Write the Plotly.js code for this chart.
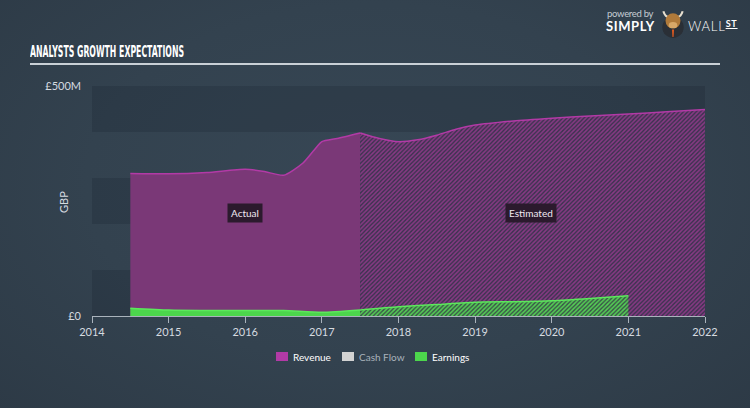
<!DOCTYPE html>
<html>
<head>
<meta charset="utf-8">
<script src="https://cdn.plot.ly/plotly-3.0.1.min.js"></script>
<style>
html,body{margin:0;padding:0;width:750px;height:408px;overflow:hidden;}
body{background:radial-gradient(ellipse 70% 80% at 50% 45%, #374755 0%, #33424f 55%, #2d3a46 100%);position:relative;font-family:Lato,'Open Sans',sans-serif;}
#chart{position:absolute;left:0;top:0;width:750px;height:408px;}
#title{position:absolute;left:30px;top:43px;color:#ffffff;font-family:'Liberation Sans Narrow','DejaVu Sans Condensed',sans-serif;font-weight:bold;font-size:15.5px;white-space:nowrap;transform-origin:0 0;}
#rule{position:absolute;left:30px;top:63px;width:690px;height:2px;background:#c9d0d6;}
#logo{position:absolute;left:606px;top:7px;color:#fff;}
#pb{position:absolute;left:1px;top:1px;font-size:9.5px;color:#c5ccd3;white-space:nowrap;letter-spacing:-0.3px;}
#simply{position:absolute;left:0;top:11px;font-size:13px;font-weight:bold;white-space:nowrap;letter-spacing:0.6px;}
#wall{position:absolute;left:82px;top:11px;font-size:13px;white-space:nowrap;letter-spacing:0.8px;font-weight:300;}
#wall span{font-size:9px;text-decoration:underline;font-weight:bold;vertical-align:top;}
#bull{position:absolute;left:53px;top:1px;width:28px;height:30px;}
</style>
</head>
<body>
<div id="chart"></div>
<div id="title">ANALYSTS GROWTH EXPECTATIONS</div>
<div id="rule"></div>
<div id="logo">
  <div id="pb">powered by</div>
  <div id="simply">SIMPLY</div>
  <svg id="bull" viewBox="0 0 26 28">
    <circle cx="13" cy="18" r="10" fill="#2a2f36"/>
    <path d="M4,3 Q6,9 9,8 M22,3 Q20,9 17,8" stroke="#e8e0d0" stroke-width="2" fill="none"/>
    <ellipse cx="13" cy="12" rx="7" ry="7" fill="#b07a3a"/>
    <ellipse cx="13" cy="16" rx="4" ry="3" fill="#d8a868"/>
    <path d="M12,20 L14,20 L13.5,27 L12.5,27 Z" fill="#e05a20"/>
  </svg>
  <div id="wall">WALL<span>ST</span></div>
</div>
<script>
// ---- data ----
var revenueActualX = [2014.5, 2015, 2015.5, 2016, 2016.25, 2016.5, 2016.75, 2016.9, 2017, 2017.2, 2017.5];
var revenueActualY = [310, 309, 312, 319, 314, 306, 332, 361, 379, 386, 398];
var revenueEstX = [2017.5, 2017.75, 2018, 2018.25, 2018.5, 2018.75, 2019, 2019.5, 2020, 2020.5, 2021, 2021.5, 2022];
var revenueEstY = [398, 386, 379, 383, 393, 406, 415, 424, 430, 435, 439, 444, 449];
var earningsActualX = [2014.5, 2015, 2015.5, 2016, 2016.5, 2017, 2017.5];
var earningsActualY = [17, 13, 12, 12, 12, 8, 13];
var earningsEstX = [2017.5, 2018, 2018.5, 2019, 2019.5, 2020, 2020.5, 2021];
var earningsEstY = [13, 20, 25, 30, 31, 33, 38, 44];
var yTickVals = [0, 500];
var yTickText = ['£0', '£500M'];
var bandStarts = [0, 200, 400];
var legendNames = ['Revenue', 'Cash Flow', 'Earnings'];
var legendColors = ['#b23aa6', '#d2d2d2', '#4cd64c'];
var legendTextColors = ['#ffffff', '#a9b2bb', '#ffffff'];

// pixel helpers for decoration placement
var L = 92, T = 86, W = 613, H = 230;
function px(x){ return (x - L) / W; }
function py(y){ return (T + H - y) / H; }

var traces = [
  {x: revenueActualX, y: revenueActualY, type: 'scatter', mode: 'lines', fill: 'tozeroy',
   fillcolor: '#7a3877', line: {color: '#b23aa6', width: 1.5, shape: 'spline', smoothing: 0.6}, showlegend: false},
  {x: revenueEstX, y: revenueEstY, type: 'scatter', mode: 'lines', fill: 'tozeroy',
   fillcolor: '#3d3350',
   fillpattern: {shape: '/', fgcolor: '#8a3a86', bgcolor: '#3d3350', size: 3, solidity: 0.5},
   line: {color: '#b23aa6', width: 1.5, shape: 'spline', smoothing: 0.6}, showlegend: false},
  {x: earningsActualX, y: earningsActualY, type: 'scatter', mode: 'lines', fill: 'tozeroy',
   fillcolor: '#4cd64c', line: {color: '#5ce85c', width: 1.5, shape: 'spline', smoothing: 0.6}, showlegend: false},
  {x: earningsEstX, y: earningsEstY, type: 'scatter', mode: 'lines', fill: 'tozeroy',
   fillcolor: '#3a5848',
   fillpattern: {shape: '/', fgcolor: '#56d256', bgcolor: '#3a5848', size: 3, solidity: 0.5},
   line: {color: '#5ce85c', width: 1.5, shape: 'spline', smoothing: 0.6}, showlegend: false}
];

var shapes = bandStarts.map(function(b){
  return {type: 'rect', xref: 'paper', yref: 'y', x0: 0, x1: 1, y0: b, y1: b + 100,
          fillcolor: 'rgba(10,18,28,0.16)', line: {width: 0}, layer: 'below'};
});
var annotations = [
  {x: 2016, y: 225, xref: 'x', yref: 'y', text: 'Actual', showarrow: false,
   bgcolor: '#2b1a2d', font: {color: '#f0e8f0', size: 10, family: 'Lato, sans-serif'}, borderpad: 3},
  {x: 2019.73, y: 225, xref: 'x', yref: 'y', text: 'Estimated', showarrow: false,
   bgcolor: '#2b1a2d', font: {color: '#f0e8f0', size: 10, family: 'Lato, sans-serif'}, borderpad: 3},
  {xref: 'paper', yref: 'paper', x: px(63), y: py(202), text: 'GBP', textangle: -90, showarrow: false,
   xanchor: 'center', yanchor: 'middle', font: {color: '#d6dbe0', size: 11, family: 'Lato, sans-serif'}}
];
var legX = [276, 342, 415];
legendNames.forEach(function(n, i){
  shapes.push({type: 'rect', xref: 'paper', yref: 'paper', x0: px(legX[i]), x1: px(legX[i] + 12),
               y0: py(361), y1: py(352), fillcolor: legendColors[i], line: {width: 0}});
  annotations.push({xref: 'paper', yref: 'paper', x: px(legX[i] + 15), y: py(356.5), xanchor: 'left', yanchor: 'middle',
                    text: n, showarrow: false, font: {color: legendTextColors[i], size: 10, family: 'Lato, sans-serif'}});
});

var layout = {
  width: 750, height: 408,
  margin: {l: L, r: 750 - L - W, t: T, b: 408 - T - H},
  paper_bgcolor: 'rgba(0,0,0,0)', plot_bgcolor: 'rgba(0,0,0,0)',
  showlegend: false, hovermode: false,
  font: {family: 'Lato, sans-serif', color: '#d6dbe0'},
  xaxis: {range: [2014, 2022], tickmode: 'linear', tick0: 2014, dtick: 1, showgrid: false, zeroline: false,
          showline: true, linecolor: '#aab3bc', linewidth: 1, ticks: 'outside', ticklen: 6, tickcolor: '#aab3bc',
          tickfont: {size: 11, color: '#d6dbe0'}, fixedrange: true},
  yaxis: {range: [0, 500], tickvals: yTickVals, ticktext: yTickText, showgrid: false, zeroline: false,
          showline: false, ticks: '', tickfont: {size: 11, color: '#d6dbe0'}, ticklabelstandoff: 10,
          fixedrange: true},
  shapes: shapes,
  annotations: annotations
};

Plotly.newPlot('chart', traces, layout, {displayModeBar: false, staticPlot: true}).then(function(){
  var t = document.getElementById('title');
  var w = t.getBoundingClientRect().width;
  t.style.transform = 'scaleX(' + (154 / w) + ')';
});
</script>
</body>
</html>
